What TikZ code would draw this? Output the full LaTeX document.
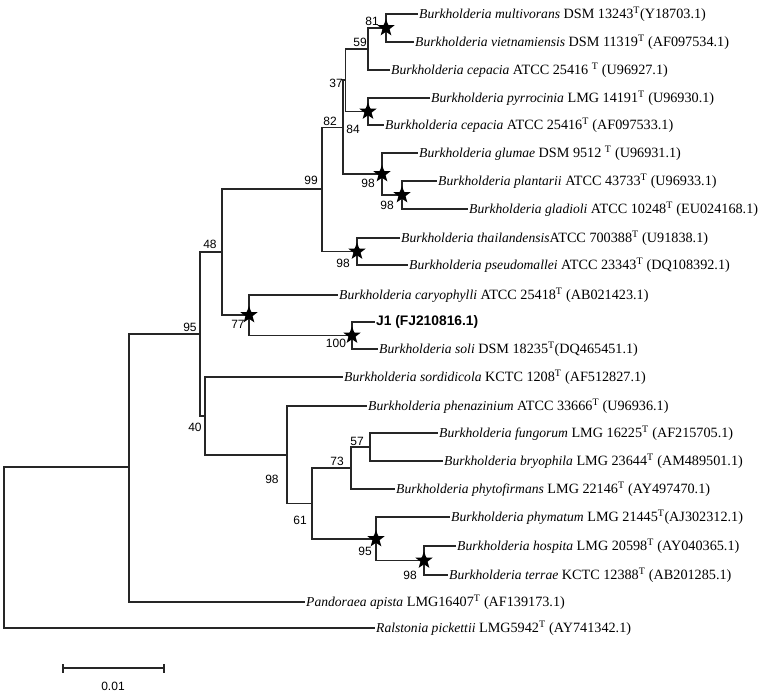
\documentclass[tikz,border=0pt]{standalone}
\usepackage{fontspec}
\setmainfont{Liberation Serif}
\setsansfont{Liberation Sans}
\usetikzlibrary{shapes.geometric}
\tikzset{
  br/.style={line width=1.1pt, draw=black!85},
  lab/.style={anchor=west, inner sep=1pt, font=\fontsize{14.2}{16}\selectfont},
  bs/.style={inner sep=0pt, font=\sffamily\fontsize{12}{14}\selectfont},
  bstar/.style={star, star points=5, star point ratio=2.4, fill=black, minimum size=18pt, inner sep=0pt}
}
\newcommand{\sT}{\textsuperscript{T}}
\newcommand{\spname}[1]{{\fontsize{13.6}{16}\selectfont\itshape #1}}
\begin{document}
\begin{tikzpicture}[x=1pt,y=-1pt]
\useasboundingbox (0,0) rectangle (764,694);
% leaves
\coordinate (L1) at (418,14);
\coordinate (L2) at (414,42);
\coordinate (L3) at (390,70);
\coordinate (L4) at (430,98);
\coordinate (L5) at (384,125);
\coordinate (L6) at (418,153);
\coordinate (L7) at (437,181);
\coordinate (L8) at (468,209);
\coordinate (L9) at (400,238);
\coordinate (L10) at (408,265);
\coordinate (L11) at (338,295);
\coordinate (L12) at (375,322);
\coordinate (L13) at (378,349);
\coordinate (L14) at (343,377);
\coordinate (L15) at (367,406);
\coordinate (L16) at (438,433);
\coordinate (L17) at (443,461);
\coordinate (L18) at (395,489);
\coordinate (L19) at (450,517);
\coordinate (L20) at (456,546);
\coordinate (L21) at (448,575);
\coordinate (L22) at (305,602);
\coordinate (L23) at (375,628);
% internal nodes
\coordinate (N81) at (386,28);
\coordinate (N59) at (368,49);
\coordinate (N84) at (368,111.5);
\coordinate (N37) at (345.7,80);
\coordinate (N98a) at (382,174);
\coordinate (N98b) at (402,195);
\coordinate (N82) at (343,127.5);
\coordinate (N98c) at (357,251.5);
\coordinate (N99) at (322,189);
\coordinate (N100) at (352,335.5);
\coordinate (N77) at (249,315);
\coordinate (N48) at (222,252);
\coordinate (N57) at (370,447);
\coordinate (N73) at (351,468);
\coordinate (N98e) at (424,560.5);
\coordinate (N95b) at (376,539);
\coordinate (N61) at (312,503.5);
\coordinate (N98d) at (287,455);
\coordinate (N40) at (205,416);
\coordinate (N95) at (200,334);
\coordinate (NP) at (129,467);
\coordinate (R) at (4,547.5);
% branches
\draw[br] (N81) |- (L1) (N81) |- (L2);
\draw[br] (N59) |- (N81) (N59) |- (L3);
\draw[br] (N84) |- (L4) (N84) |- (L5);
\draw[br] (N37) |- (N59) (N37) |- (N84);
\draw[br] (N98b) |- (L7) (N98b) |- (L8);
\draw[br] (N98a) |- (L6) (N98a) |- (N98b);
\draw[br] (N82) |- (N37) (N82) |- (N98a);
\draw[br] (N98c) |- (L9) (N98c) |- (L10);
\draw[br] (N99) |- (N82) (N99) |- (N98c);
\draw[br] (N100) |- (L12) (N100) |- (L13);
\draw[br] (N77) |- (L11) (N77) |- (N100);
\draw[br] (N48) |- (N99) (N48) |- (N77);
\draw[br] (N57) |- (L16) (N57) |- (L17);
\draw[br] (N73) |- (N57) (N73) |- (L18);
\draw[br] (N98e) |- (L20) (N98e) |- (L21);
\draw[br] (N95b) |- (L19) (N95b) |- (N98e);
\draw[br] (N61) |- (N73) (N61) |- (N95b);
\draw[br] (N98d) |- (L15) (N98d) |- (N61);
\draw[br] (N40) |- (L14) (N40) |- (N98d);
\draw[br] (N95) |- (N48) (N95) |- (N40);
\draw[br] (NP) |- (N95) (NP) |- (L22);
\draw[br] (R) |- (NP) (R) |- (L23);
% stars
\foreach \n in {N81,N84,N98a,N98b,N98c,N77,N100,N95b,N98e}
  \node[bstar] at (\n) {};
% leaf labels
\node[lab] (t1) at (L1) {\spname{Burkholderia multivorans} DSM 13243\sT(Y18703.1)};
\node[lab] (t2) at (L2) {\spname{Burkholderia vietnamiensis} DSM 11319\sT\ (AF097534.1)};
\node[lab] (t3) at (L3) {\spname{Burkholderia cepacia} ATCC 25416 \sT\ (U96927.1)};
\node[lab] (t4) at (L4) {\spname{Burkholderia pyrrocinia} LMG 14191\sT\ (U96930.1)};
\node[lab] (t5) at (L5) {\spname{Burkholderia cepacia} ATCC 25416\sT\ (AF097533.1)};
\node[lab] (t6) at (L6) {\spname{Burkholderia glumae} DSM 9512 \sT\ (U96931.1)};
\node[lab] (t7) at (L7) {\spname{Burkholderia plantarii} ATCC 43733\sT\ (U96933.1)};
\node[lab] (t8) at (L8) {\spname{Burkholderia gladioli} ATCC 10248\sT\ (EU024168.1)};
\node[lab] (t9) at (L9) {\spname{Burkholderia thailandensis}ATCC 700388\sT\ (U91838.1)};
\node[lab] (t10) at (L10) {\spname{Burkholderia pseudomallei} ATCC 23343\sT\ (DQ108392.1)};
\node[lab] (t11) at (L11) {\spname{Burkholderia caryophylli} ATCC 25418\sT\ (AB021423.1)};
\node[lab, font=\sffamily\bfseries\fontsize{13.8}{16}\selectfont] (t12) at (L12) {J1 (FJ210816.1)};
\node[lab] (t13) at (L13) {\spname{Burkholderia soli} DSM 18235\sT(DQ465451.1)};
\node[lab] (t14) at (L14) {\spname{Burkholderia sordidicola} KCTC 1208\sT\ (AF512827.1)};
\node[lab] (t15) at (L15) {\spname{Burkholderia phenazinium} ATCC 33666\sT\ (U96936.1)};
\node[lab] (t16) at (L16) {\spname{Burkholderia fungorum} LMG 16225\sT\ (AF215705.1)};
\node[lab] (t17) at (L17) {\spname{Burkholderia bryophila} LMG 23644\sT\ (AM489501.1)};
\node[lab] (t18) at (L18) {\spname{Burkholderia phytofirmans} LMG 22146\sT\ (AY497470.1)};
\node[lab] (t19) at (L19) {\spname{Burkholderia phymatum} LMG 21445\sT(AJ302312.1)};
\node[lab] (t20) at (L20) {\spname{Burkholderia hospita} LMG 20598\sT\ (AY040365.1)};
\node[lab] (t21) at (L21) {\spname{Burkholderia terrae} KCTC 12388\sT\ (AB201285.1)};
\node[lab] (t22) at (L22) {\spname{Pandoraea apista} LMG16407\sT\ (AF139173.1)};
\node[lab] (t23) at (L23) {\spname{Ralstonia pickettii} LMG5942\sT\ (AY741342.1)};
% bootstrap values
\node[bs] (b81) at (372,21) {81};
\node[bs] (b59) at (360,42) {59};
\node[bs] (b37) at (336,83) {37};
\node[bs] (b82) at (330,121) {82};
\node[bs] (b84) at (353,129) {84};
\node[bs] (b99) at (311,180) {99};
\node[bs] (b98a) at (368,183) {98};
\node[bs] (b98b) at (387,205) {98};
\node[bs] (b48) at (210,244) {48};
\node[bs] (b98c) at (343,263) {98};
\node[bs] (b77) at (238,324) {77};
\node[bs] (b100) at (336,343) {100};
\node[bs] (b95) at (190,327) {95};
\node[bs] (b40) at (195,427) {40};
\node[bs] (b98d) at (272,479) {98};
\node[bs] (b57) at (357,441) {57};
\node[bs] (b73) at (337,461) {73};
\node[bs] (b61) at (300,520) {61};
\node[bs] (b95b) at (365,551) {95};
\node[bs] (b98e) at (410,575) {98};
% scale bar
\coordinate (S1) at (63,668);
\coordinate (S2) at (164,668);
\draw[br] (S1) -- (S2);
\draw[br] ([yshift=-4.5pt]S1) -- ([yshift=4.5pt]S1);
\draw[br] ([yshift=-4.5pt]S2) -- ([yshift=4.5pt]S2);
\node[bs] (sl) at (113,686) {0.01};
\end{tikzpicture}
\end{document}
